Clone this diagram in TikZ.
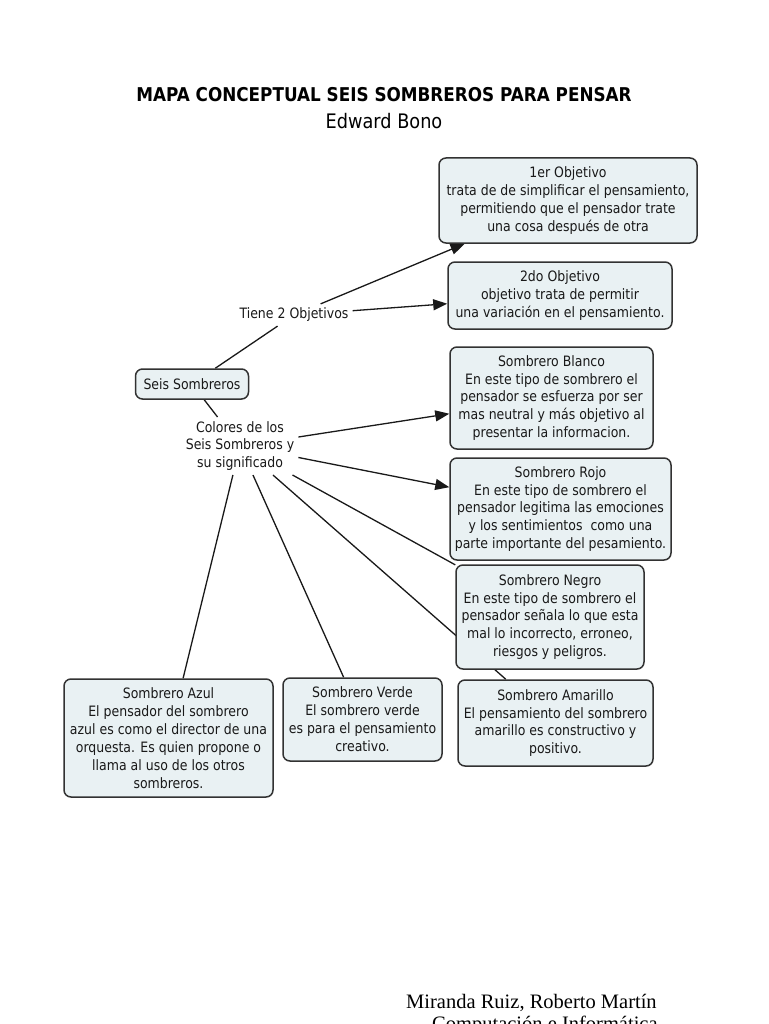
\documentclass[tikz,border=0pt]{standalone}
\usepackage{fontspec}
\usepackage{graphicx}
\usetikzlibrary{arrows.meta,backgrounds}
\newfontfamily\boxfont[FakeStretch=0.875]{DejaVu Sans}
\newfontfamily\titlefont[FakeStretch=0.885]{DejaVu Sans}
\newfontfamily\footfont{Liberation Serif}
\definecolor{boxfill}{RGB}{233,241,243}
\definecolor{boxline}{RGB}{50,50,50}
\definecolor{ink}{RGB}{25,25,25}
\begin{document}
\begin{tikzpicture}[x=1pt,y=-1pt,
  cbox/.style={draw=boxline, line width=1.5pt, fill=boxfill, rounded corners=7pt,
    align=center, text=ink, inner sep=0pt,
    font=\boxfont\fontsize{14.3}{17.9}\selectfont},
  lbl/.style={align=center, text=ink, inner sep=4pt,
    font=\boxfont\fontsize{14.3}{17.9}\selectfont},
  conn/.style={draw=ink, line width=1.3pt},
  arr/.style={conn, -{Triangle[length=14pt,width=11pt]}}]
\useasboundingbox (0,0) rectangle (768,1024);
\clip (0,0) rectangle (768,1024);

% title
\node[text=black, font=\titlefont\bfseries\fontsize{19}{22}\selectfont] (title) at (384,95) {MAPA CONCEPTUAL SEIS SOMBREROS PARA PENSAR};
\node[text=black, font=\titlefont\fontsize{20}{22}\selectfont] (author) at (384,121) {Edward Bono};

% boxes
\node[cbox, minimum width=258, minimum height=85] (obj1) at (568,200.5)
  {1er Objetivo\\trata de de simplificar el pensamiento,\\permitiendo que el pensador trate\\una cosa después de otra};
\node[cbox, minimum width=224, minimum height=67] (obj2) at (560,295.5)
  {2do Objetivo\\objetivo trata de permitir\\una variación en el pensamiento.};
\node[cbox, minimum width=113, minimum height=30] (seis) at (192,384) {Seis Sombreros};
\node[cbox, minimum width=203, minimum height=102] (blanco) at (551.5,398)
  {Sombrero Blanco\\En este tipo de sombrero el\\pensador se esfuerza por ser\\mas neutral y más objetivo al\\presentar la informacion.};
\node[cbox, minimum width=221, minimum height=102] (rojo) at (560.5,509)
  {Sombrero Rojo\\En este tipo de sombrero el\\pensador legitima las emociones\\y los sentimientos\ \ como una\\parte importante del pesamiento.};
\node[cbox, minimum width=188, minimum height=104] (negro) at (550,617)
  {Sombrero Negro\\En este tipo de sombrero el\\pensador señala lo que esta\\mal lo incorrecto, erroneo,\\riesgos y peligros.};
\node[cbox, minimum width=209, minimum height=118] (azul) at (168.5,738)
  {Sombrero Azul\\El pensador del sombrero\\azul es como el director de una\\orquesta. Es quien propone o\\llama al uso de los otros\\sombreros.};
\node[cbox, minimum width=159, minimum height=83] (verde) at (362.5,719.5)
  {Sombrero Verde\\El sombrero verde\\es para el pensamiento\\creativo.};
\node[cbox, minimum width=195, minimum height=86] (amarillo) at (555.5,723)
  {Sombrero Amarillo\\El pensamiento del sombrero\\amarillo es constructivo y\\positivo.};

% labels
\node[lbl] (tiene) at (294,315) {Tiene 2 Objetivos};
\node[lbl] (colores) at (240,446) {Colores de los\\Seis Sombreros y\\su significado};

% footer
\node[anchor=base west, inner sep=0pt, text=black, font=\footfont\fontsize{20.5}{22}\selectfont] (foot1) at (406,1008) {Miranda Ruiz, Roberto Martín};
\node[anchor=base west, inner sep=0pt, text=black, font=\footfont\fontsize{20.5}{22}\selectfont] (foot2) at (432,1030) {Computación e Informática};

\begin{pgfonlayer}{background}
\fill[white] (0,0) rectangle (768,1024);
\draw[conn] (seis) -- (tiene);
\draw[arr] (tiene) -- (obj1);
\draw[arr] (tiene) -- (obj2);
\draw[conn] (seis) -- (colores);
\draw[arr] (colores) -- (blanco);
\draw[arr] (colores) -- (rojo);
\draw[conn] (colores) -- (negro);
\draw[conn] (colores) -- (amarillo);
\draw[conn] (colores) -- (verde);
\draw[conn] (colores) -- (azul);
\end{pgfonlayer}
\end{tikzpicture}
\end{document}
